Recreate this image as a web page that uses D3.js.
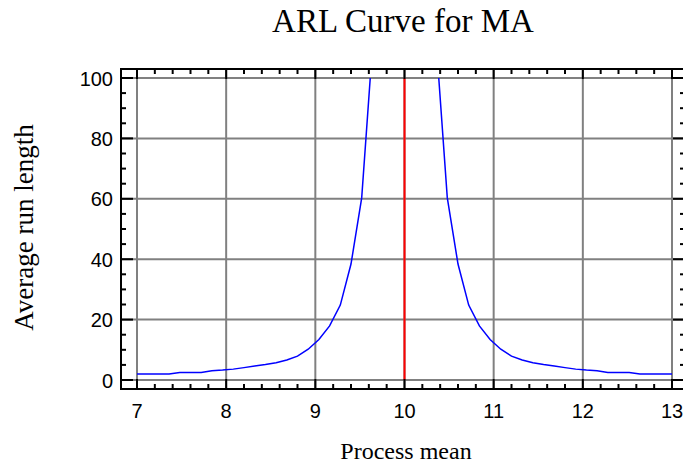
<!DOCTYPE html>
<html>
<head>
<meta charset="utf-8">
<script src="https://cdn.jsdelivr.net/npm/d3@7"></script>
<style>
  body { margin: 0; background: #fff; }
  svg { display: block; }
</style>
</head>
<body>
<div id="chart"></div>
<script>
// process mean shifts (step 0.12) and the average run length read at each
var means = [7.00, 7.12, 7.24, 7.36, 7.48, 7.60, 7.72, 7.84, 7.96, 8.08,
             8.20, 8.32, 8.44, 8.56, 8.68, 8.80, 8.92, 9.04, 9.16, 9.28,
             9.40, 9.52, 9.64, 9.76, 9.88, 10.00, 10.12, 10.24, 10.36, 10.48,
             10.60, 10.72, 10.84, 10.96, 11.08, 11.20, 11.32, 11.44, 11.56, 11.68,
             11.80, 11.92, 12.04, 12.16, 12.28, 12.40, 12.52, 12.64, 12.76, 12.88, 13.00];
var arl = [2.0, 2.0, 2.0, 2.0, 2.5, 2.5, 2.5, 3.1, 3.3, 3.6,
           4.1, 4.6, 5.1, 5.7, 6.6, 7.9, 10.2, 13.4, 17.9, 24.8,
           38.4, 60.3, 110, 230, 370, 500, 370, 230, 110, 60.3,
           38.4, 24.8, 17.9, 13.4, 10.2, 7.9, 6.6, 5.7, 5.1, 4.6,
           4.1, 3.6, 3.3, 3.1, 2.5, 2.5, 2.5, 2.0, 2.0, 2.0, 2.0];

var xTicks = [7, 8, 9, 10, 11, 12, 13];
var yTicks = [0, 20, 40, 60, 80, 100];
var centerLine = 10;

var width = 683,
    height = 464;

var x = d3.scaleLinear().domain([7, 13]).range([137, 672]);
var y = d3.scaleLinear().domain([0, 100]).range([380, 78]);

// frame sits a bit outside the data area
var fLeft = x.range()[0] - 16,
    fRight = x.range()[1] + 13,
    fTop = y.range()[1] - 9,
    fBottom = y.range()[0] + 9;

var svg = d3.select("#chart").append("svg")
    .attr("width", width)
    .attr("height", height);

// clip the curve to the 0..100 band
svg.append("defs").append("clipPath")
    .attr("id", "clip")
    .append("rect")
    .attr("x", fLeft)
    .attr("y", y(100))
    .attr("width", fRight - fLeft)
    .attr("height", fBottom - y(100));

// grid
svg.append("g").selectAll("line")
    .data(xTicks)
    .enter().append("line")
    .attr("x1", function(d) { return x(d); })
    .attr("x2", function(d) { return x(d); })
    .attr("y1", fTop)
    .attr("y2", fBottom)
    .style("stroke", "#808080")
    .style("stroke-width", 2);

svg.append("g").selectAll("line")
    .data(yTicks)
    .enter().append("line")
    .attr("x1", fLeft)
    .attr("x2", fRight)
    .attr("y1", function(d) { return y(d); })
    .attr("y2", function(d) { return y(d); })
    .style("stroke", "#808080")
    .style("stroke-width", 2);

// centre line
svg.append("line")
    .attr("x1", x(centerLine))
    .attr("x2", x(centerLine))
    .attr("y1", y(0))
    .attr("y2", y(100))
    .style("stroke", "#ff0000")
    .style("stroke-width", 2);

// ARL curve
var line = d3.line()
    .x(function(d, i) { return x(means[i]); })
    .y(function(d) { return y(d); });

svg.append("path")
    .datum(arl)
    .attr("clip-path", "url(#clip)")
    .attr("d", line)
    .style("fill", "none")
    .style("stroke", "#0000ff")
    .style("stroke-width", 1.5);

// frame
svg.append("rect")
    .attr("x", fLeft)
    .attr("y", fTop)
    .attr("width", fRight - fLeft)
    .attr("height", fBottom - fTop)
    .style("fill", "none")
    .style("stroke", "#000")
    .style("stroke-width", 2);

// ticks pointing inward, minors every 0.2 on x and 5 on y
var xMinor = d3.range(70, 131, 2).map(function(v) { return v / 10; });
var yMinor = d3.range(0, 101, 5);
var ticks = svg.append("g").style("stroke", "#000").style("stroke-width", 2);

xMinor.forEach(function(v) {
    var len = xTicks.indexOf(v) >= 0 ? 10 : 5;
    ticks.append("line").attr("x1", x(v)).attr("x2", x(v)).attr("y1", fTop).attr("y2", fTop + len);
    ticks.append("line").attr("x1", x(v)).attr("x2", x(v)).attr("y1", fBottom).attr("y2", fBottom - len);
});
yMinor.forEach(function(v) {
    var len = yTicks.indexOf(v) >= 0 ? 12 : 5;
    ticks.append("line").attr("x1", fLeft).attr("x2", fLeft + len).attr("y1", y(v)).attr("y2", y(v));
    ticks.append("line").attr("x1", fRight).attr("x2", fRight - len).attr("y1", y(v)).attr("y2", y(v));
});

// tick labels
svg.append("g").selectAll("text")
    .data(xTicks)
    .enter().append("text")
    .attr("x", function(d) { return x(d); })
    .attr("y", fBottom + 28.5)
    .style("text-anchor", "middle")
    .style("font", "20px 'Liberation Sans', Arial, sans-serif")
    .text(function(d) { return d; });

svg.append("g").selectAll("text")
    .data(yTicks)
    .enter().append("text")
    .attr("x", fLeft - 8)
    .attr("y", function(d) { return y(d) + 7.5; })
    .style("text-anchor", "end")
    .style("font", "20px 'Liberation Sans', Arial, sans-serif")
    .text(function(d) { return d; });

// titles
svg.append("text")
    .attr("x", 403)
    .attr("y", 32)
    .style("text-anchor", "middle")
    .style("font", "33px 'Liberation Serif', 'Times New Roman', serif")
    .text("ARL Curve for MA");

svg.append("text")
    .attr("x", 406)
    .attr("y", 459)
    .style("text-anchor", "middle")
    .style("font", "24px 'Liberation Serif', 'Times New Roman', serif")
    .text("Process mean");

svg.append("text")
    .attr("transform", "translate(33,227.5) rotate(-90)")
    .style("text-anchor", "middle")
    .style("font", "27px 'Liberation Serif', 'Times New Roman', serif")
    .text("Average run length");
</script>
</body>
</html>
